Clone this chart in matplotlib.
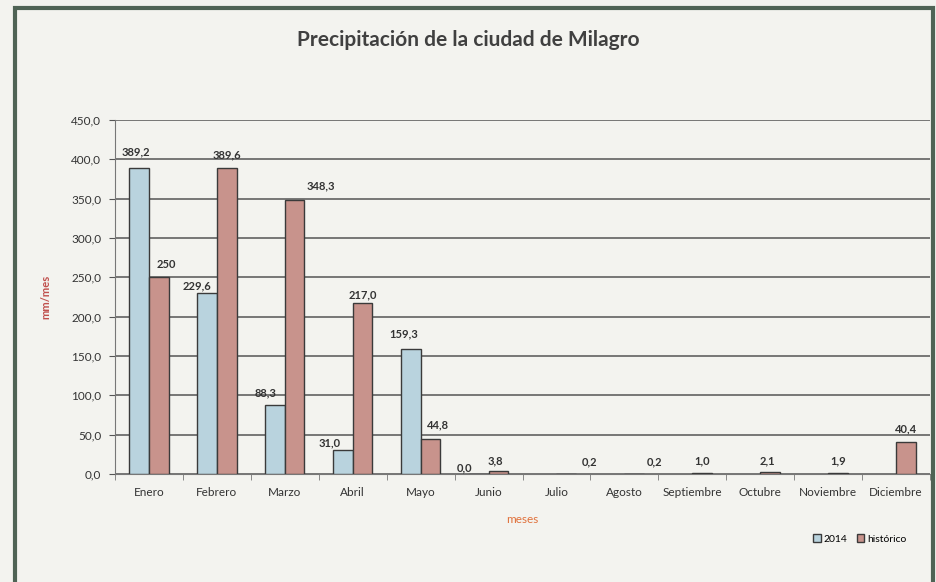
import numpy as np
import matplotlib
matplotlib.use("Agg")
import matplotlib.pyplot as plt
from matplotlib.patches import Rectangle

meses = ["Enero", "Febrero", "Marzo", "Abril", "Mayo", "Junio", "Julio",
         "Agosto", "Septiembre", "Octubre", "Noviembre", "Diciembre"]
lluvia_2014 = [389.2, 229.6, 88.3, 31.0, 159.3, 0.0,
               np.nan, np.nan, np.nan, np.nan, np.nan, np.nan]
lluvia_hist = [250.0, 389.6, 348.3, 217.0, 44.8, 3.8,
               0.2, 0.2, 1.0, 2.1, 1.9, 40.4]
etiq_2014 = ["389,2", "229,6", "88,3", "31,0", "159,3", "0,0",
             "", "", "", "", "", ""]
etiq_hist = ["250", "389,6", "348,3", "217,0", "44,8", "3,8",
             "0,2", "0,2", "1,0", "2,1", "1,9", "40,4"]
yticks = np.arange(0, 451, 50)

# desplazamientos de las etiquetas (px), como en el original
dx_2014 = [-3, -10, -9, -13, -7, -14, 0, 0, 0, 0, 0, 0]
dy_2014 = [16, 8, 12, 7, 15, 6, 0, 0, 0, 0, 0, 0]
dx_hist = [8, 0, 26, 0, 7, -3, 23, 20, 0, -3, 0, 0]
dy_hist = [13, 13, 14, 8, 14, 10, 12, 12, 12, 12, 12, 13]

BG = "#f3f3ef"
AZUL = "#b9d3de"
ROJO = "#c8938c"
BORDE = "#3a3a3a"
TXT = "#333333"

plt.rcParams["font.family"] = ["Lato", "DejaVu Sans"]

fig = plt.figure(figsize=(9.37, 5.82), dpi=100)
fig.patch.set_facecolor(BG)

# marco exterior del gráfico
fig.patches.append(Rectangle((15 / 937, -0.05), 918 / 937, 1.05 - 8 / 582,
                             transform=fig.transFigure, fill=False,
                             edgecolor="#4f6355", linewidth=3))

ax = fig.add_axes([115 / 937, 1 - 474 / 582, 815 / 937, 354 / 582])
ax.set_facecolor(BG)

x = np.arange(len(meses))
w = 0.29
ax.bar(x - w / 2, lluvia_2014, w, color=AZUL, edgecolor=BORDE, linewidth=1, zorder=3)
ax.bar(x + w / 2, lluvia_hist, w, color=ROJO, edgecolor=BORDE, linewidth=1, zorder=3)

for i in range(len(meses)):
    if etiq_2014[i]:
        ax.annotate(etiq_2014[i], (x[i] - w / 2, lluvia_2014[i]),
                    xytext=(dx_2014[i], dy_2014[i]), textcoords="offset pixels",
                    ha="center", va="center", fontsize=8, fontweight="bold",
                    color=TXT, zorder=4)
    ax.annotate(etiq_hist[i], (x[i] + w / 2, lluvia_hist[i]),
                xytext=(dx_hist[i], dy_hist[i]), textcoords="offset pixels",
                ha="center", va="center", fontsize=8, fontweight="bold",
                color=TXT, zorder=4)

ax.set_xlim(-0.5, len(meses) - 0.5)
ax.set_ylim(0, 450)
ax.set_yticks(yticks)
ax.set_yticklabels([f"{v:.1f}".replace(".", ",") for v in yticks],
                   fontsize=8.5, color=TXT)
ax.set_xticks(x)
ax.set_xticklabels(meses, fontsize=8.5, color=TXT)
ax.set_xticks(np.arange(-0.5, len(meses)), minor=True)
ax.tick_params(axis="x", which="major", length=0, pad=9)
ax.tick_params(axis="x", which="minor", length=4, color="#777777")
ax.tick_params(axis="y", length=4, color="#555555", pad=6)
ax.grid(axis="y", color="#555555", linewidth=1.1, zorder=0)
for s in ["top", "right"]:
    ax.spines[s].set_visible(False)
ax.spines["left"].set_color("#777777")
ax.spines["bottom"].set_color("#777777")

ax.set_ylabel("mm/mes", fontsize=8, fontweight="bold", color="#c0504d", labelpad=14)
ax.set_xlabel("meses", fontsize=8.5, color="#e0703a", labelpad=12)

fig.text(0.5, 1 - 40 / 582, "Precipitación de la ciudad de Milagro",
         ha="center", va="center", fontsize=15, fontweight="bold", color="#404040")

leg_handles = [Rectangle((0, 0), 1, 1, facecolor=AZUL, edgecolor=BORDE),
               Rectangle((0, 0), 1, 1, facecolor=ROJO, edgecolor=BORDE)]
fig.legend(leg_handles, ["2014", "histórico"], loc="center",
           bbox_to_anchor=(860 / 937, 1 - 539 / 582), ncol=2, frameon=False,
           fontsize=7.5, handlelength=0.7, handleheight=0.7,
           handletextpad=0.3, columnspacing=0.9)

fig.savefig("out.png", dpi=100, facecolor=fig.get_facecolor())
